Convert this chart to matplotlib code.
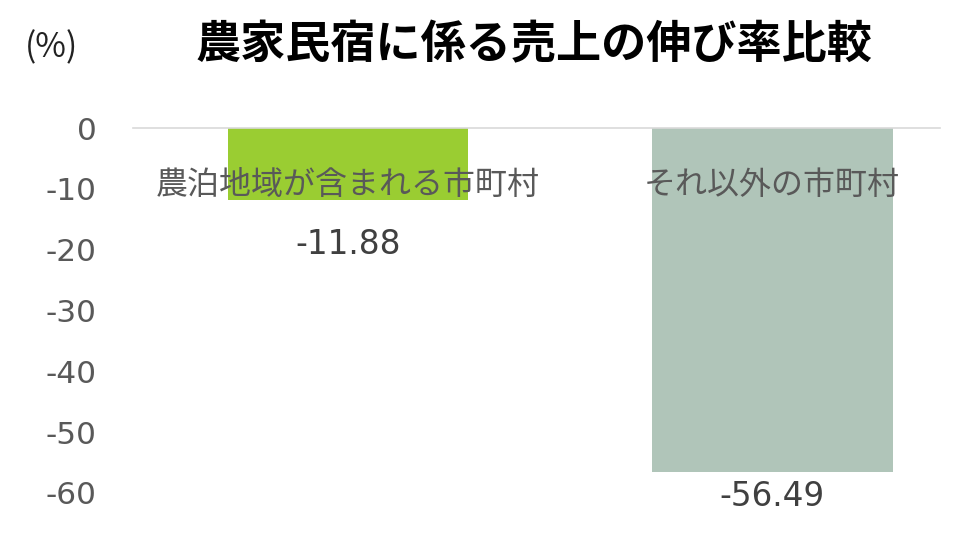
import matplotlib
matplotlib.use("Agg")
import matplotlib.pyplot as plt

plt.rcParams['font.family'] = ['Noto Sans CJK JP', 'DejaVu Sans']

# data
categories = ["農泊地域が含まれる市町村", "それ以外の市町村"]
growth_rates = [-11.88, -56.49]
y_ticks = [0, -10, -20, -30, -40, -50, -60]

bar_colors = ["#9ACD32", "#B0C5B9"]
label_gap = [7.3, 4.1]   # how far below the bar end the value label sits
text_gray = "#595959"

fig = plt.figure(figsize=(9.6, 5.44), dpi=100)
ax = fig.add_axes([133 / 960, (544 - 493) / 544, (940 - 133) / 960, (493 - 128) / 544])

x = list(range(len(categories)))
ax.bar(x, growth_rates, width=0.568, color=bar_colors, zorder=2)

ax.set_xlim(-0.507, 1.396)
ax.set_ylim(-60, 0)
ax.set_yticks(y_ticks)
ax.set_yticklabels([str(t) for t in y_ticks], family='DejaVu Sans')
ax.tick_params(axis='y', length=0, labelsize=22.5, labelcolor=text_gray, pad=26)
ax.set_xticks([])

for side in ["left", "right", "bottom"]:
    ax.spines[side].set_visible(False)
ax.spines["top"].set_color("#D9D9D9")
ax.spines["top"].set_linewidth(1.2)

# category names drawn inside the plot near the top
for xi, name in zip(x, categories):
    ax.text(xi, -9.4, name, ha='center', va='center', fontsize=23,
            color=text_gray, zorder=3)

# value labels under each bar
for xi, v, gap in zip(x, growth_rates, label_gap):
    ax.text(xi, v - gap, f"{v:.2f}", ha='center', va='center', fontsize=23.5,
            color="#404040", family='DejaVu Sans', zorder=3)

fig.text(534 / 960, 1 - 45 / 544, "農家民宿に係る売上の伸び率比較", ha='center',
         va='center', fontsize=32.5, fontweight='bold', color='black')
fig.text(52 / 960, 1 - 48 / 544, "(%)", ha='center', va='center', fontsize=24,
         color='#222222')

fig.savefig("out.png", dpi=100)
